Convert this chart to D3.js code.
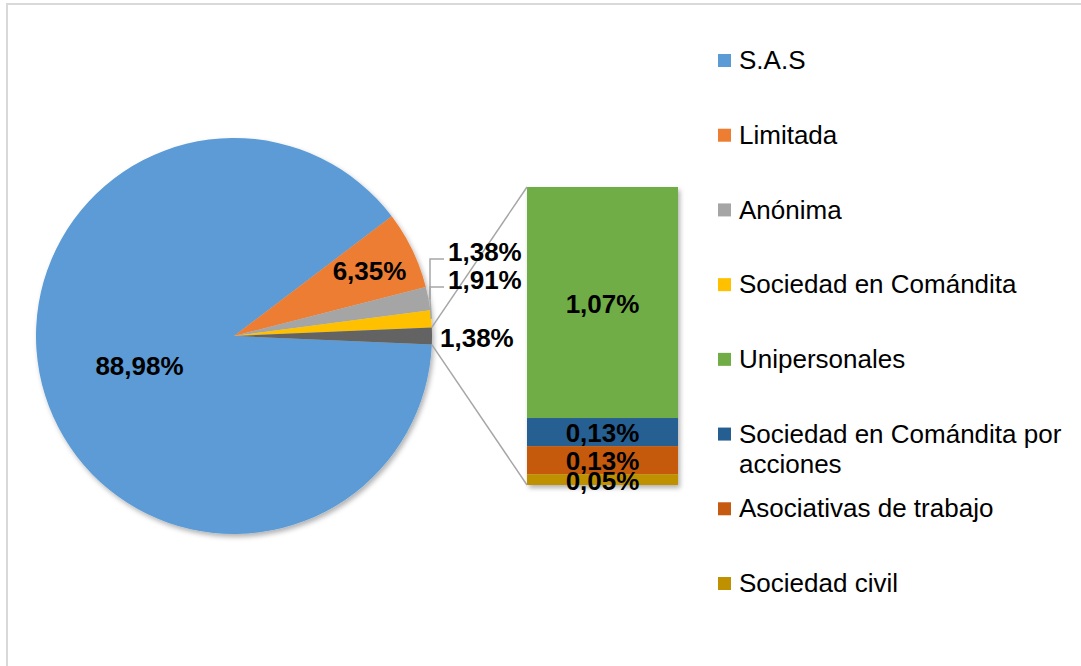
<!DOCTYPE html>
<html>
<head>
<meta charset="utf-8">
<script src="https://cdn.jsdelivr.net/npm/d3@7"></script>
<style>
  body { margin: 0; background: #fff; }
  svg { display: block; font-family: "Liberation Sans", Arial, sans-serif; }
</style>
</head>
<body>
<svg id="chart" width="1081" height="666"></svg>
<script>
// main pie: the last slice ("Otros") is split into the bar on the right
const pieNames = ["S.A.S", "Limitada", "Anónima", "Sociedad en Comándita", "Otros"];
const pieValues = [88.98, 6.35, 1.91, 1.38, 1.38];
const pieColors = ["#5b9bd5", "#ed7d31", "#a5a5a5", "#ffc000", "#636363"];

const barNames = ["Unipersonales", "Sociedad en Comándita por acciones", "Asociativas de trabajo", "Sociedad civil"];
const barValues = [1.07, 0.13, 0.13, 0.05];
const barColors = ["#70ad47", "#255e91", "#c55a11", "#bf9000"];

const legendNames = ["S.A.S", "Limitada", "Anónima", "Sociedad en Comándita", "Unipersonales",
  "Sociedad en Comándita por acciones", "Asociativas de trabajo", "Sociedad civil"];
const legendColors = pieColors.slice(0, 4).concat(barColors);

const fmt = v => d3.format(".2f")(v).replace(".", ",") + "%";

const svg = d3.select("#chart");

// drop shadow like the office chart
let defs = svg.append("defs");
defs.append("filter").attr("id", "shadow")
    .attr("x", "-10%").attr("y", "-10%").attr("width", "130%").attr("height", "130%")
    .append("feDropShadow")
    .attr("dx", 2).attr("dy", 3).attr("stdDeviation", 2.5)
    .attr("flood-color", "#000").attr("flood-opacity", 0.3);

// chart frame
svg.append("rect")
    .attr("x", 7).attr("y", 4)
    .attr("width", 1100).attr("height", 700)
    .attr("fill", "none").attr("stroke", "#d9d9d9").attr("stroke-width", 2);

let cx = 234, cy = 336, r = 198;
let total = d3.sum(pieValues);
let otherShare = pieValues[pieValues.length - 1] / total;
// keep the split slice centred on 3 o'clock
let offset = Math.PI / 2 + Math.PI * otherShare;

let pie = d3.pie().sort(null).value(d => d)
    .startAngle(offset).endAngle(offset + 2 * Math.PI);
let arcs = pie(pieValues);
let arc = d3.arc().innerRadius(0).outerRadius(r);

let pieG = svg.append("g").attr("transform", `translate(${cx},${cy})`);
pieG.append("g").attr("filter", "url(#shadow)")
    .selectAll("path").data(arcs).enter()
    .append("path")
    .attr("d", arc)
    .attr("fill", (d, i) => pieColors[i]);

// bar of the split slice
let barX = 527, barW = 151, barTop = 187, barBottom = 485;
let y = d3.scaleLinear().domain([0, d3.sum(barValues)]).range([barTop, barBottom]);
let stacked = [];
let acc = 0;
barValues.forEach((v, i) => { stacked.push({v: v, y0: acc, y1: acc + v, i: i}); acc += v; });

svg.append("g").attr("filter", "url(#shadow)")
    .selectAll("rect").data(stacked).enter()
    .append("rect")
    .attr("x", barX).attr("width", barW)
    .attr("y", d => y(d.y0))
    .attr("height", d => y(d.y1) - y(d.y0))
    .attr("fill", d => barColors[d.i]);

// connector lines from the split slice to the bar
let other = arcs[arcs.length - 1];
let edge = a => [cx + r * Math.sin(a), cy - r * Math.cos(a)];
let p0 = edge(other.startAngle), p1 = edge(other.endAngle);
svg.append("line").attr("x1", p0[0]).attr("y1", p0[1]).attr("x2", barX).attr("y2", y(0))
    .attr("stroke", "#a6a6a6").attr("stroke-width", 1.5);
svg.append("line").attr("x1", p1[0]).attr("y1", p1[1]).attr("x2", barX).attr("y2", y(d3.sum(barValues)))
    .attr("stroke", "#a6a6a6").attr("stroke-width", 1.5);

// pie labels
let labelFont = 26;
let inside = [0.5, 0.76];
arcs.slice(0, 2).forEach((d, i) => {
  let c = d3.arc().innerRadius(0).outerRadius(2 * r * inside[i]).centroid(d);
  svg.append("text")
      .attr("x", cx + c[0]).attr("y", cy + c[1])
      .attr("text-anchor", "middle").attr("dy", "0.35em")
      .attr("font-size", labelFont).attr("font-weight", "bold")
      .text(fmt(pieValues[i]));
});

// small slices: labels stacked above with leader lines
let leaderX = 430;
[{i: 3, ly: 252}, {i: 2, ly: 280}].forEach(o => {
  let d = arcs[o.i];
  let a = edge((d.startAngle + d.endAngle) / 2);
  svg.append("polyline")
      .attr("points", [[leaderX + 14, o.ly + 7], [leaderX, o.ly + 7], [leaderX, Math.min(a[1], 300)], a].join(" "))
      .attr("fill", "none").attr("stroke", "#a6a6a6").attr("stroke-width", 1.5);
  svg.append("text")
      .attr("x", 448).attr("y", o.ly)
      .attr("dy", "0.35em")
      .attr("font-size", labelFont).attr("font-weight", "bold")
      .text(fmt(pieValues[o.i]));
});

// label of the split slice
svg.append("text")
    .attr("x", cx + r + 8).attr("y", cy + 2)
    .attr("dy", "0.35em")
    .attr("font-size", labelFont).attr("font-weight", "bold")
    .text(fmt(pieValues[pieValues.length - 1]));

// bar labels
svg.append("g").selectAll("text").data(stacked).enter()
    .append("text")
    .attr("x", barX + barW / 2)
    .attr("y", d => (y(d.y0) + y(d.y1)) / 2 + 1)
    .attr("dy", "0.35em")
    .attr("text-anchor", "middle")
    .attr("font-size", labelFont).attr("font-weight", "bold")
    .text(d => fmt(d.v));

// legend
let ly = d3.scalePoint().domain(legendNames).range([60, 583]);
let legend = svg.append("g").selectAll("g").data(legendNames).enter()
    .append("g")
    .attr("transform", d => `translate(718, ${ly(d)})`);
legend.append("rect")
    .attr("x", 0).attr("y", -6).attr("width", 13).attr("height", 13)
    .attr("fill", (d, i) => legendColors[i]);
legend.append("text")
    .attr("x", 21).attr("y", 0).attr("dy", "0.35em")
    .attr("font-size", 26).attr("fill", "#000")
    .each(function(d) {
      let t = d3.select(this);
      if (d === "Sociedad en Comándita por acciones") {
        t.append("tspan").attr("x", 21).text("Sociedad en Comándita por");
        t.append("tspan").attr("x", 21).attr("dy", 30).text("acciones");
      } else {
        t.text(d);
      }
    });
</script>
</body>
</html>
